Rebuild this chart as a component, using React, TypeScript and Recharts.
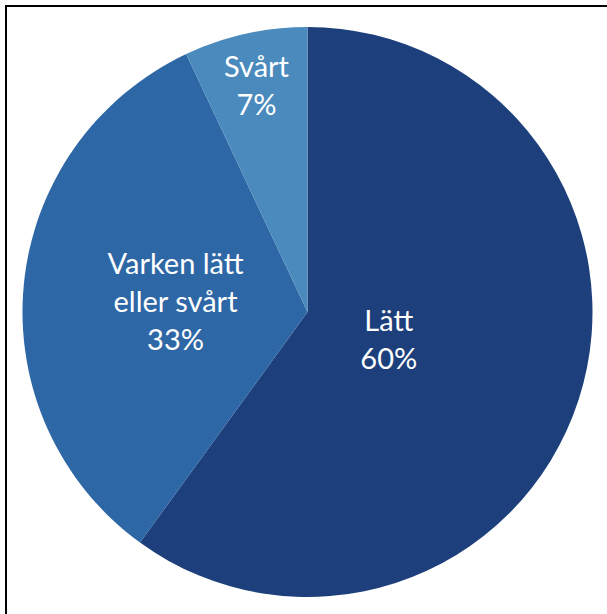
import React from "react";
import { PieChart, Pie, Cell } from "recharts";

const categories = ["Lätt", "Varken lätt eller svårt", "Svårt"];
const labelLines = [["Lätt"], ["Varken lätt", "eller svårt"], ["Svårt"]];
const values = [60, 33, 7];
const colors = ["#1d3f7b", "#2e67a6", "#4a8abd"];
// label distance from centre as fraction of the radius (layout only)
const labelRadiusFrac = [0.3, 0.465, 0.82];

const data = categories.map((name, i) => ({ name, value: values[i] }));

const RAD = Math.PI / 180;
const LINE_H = 38;

const renderLabel = (props: any) => {
  const { cx, cy, midAngle, outerRadius, index, value } = props;
  const r = outerRadius * labelRadiusFrac[index];
  const x = cx + r * Math.cos(-midAngle * RAD);
  const y = cy + r * Math.sin(-midAngle * RAD);
  const lines = [...labelLines[index], `${value}%`];
  const startY = y - ((lines.length - 1) * LINE_H) / 2;
  return (
    <text
      x={x}
      y={startY}
      fill="#ffffff"
      textAnchor="middle"
      dominantBaseline="central"
      fontFamily="Lato, 'Open Sans', sans-serif"
      fontSize={29}
    >
      {lines.map((l, i) => (
        <tspan key={i} x={x} y={startY + i * LINE_H}>
          {l}
        </tspan>
      ))}
    </text>
  );
};

export default function App() {
  return (
    <div
      style={{
        position: "absolute",
        left: 0,
        top: 0,
        width: 607,
        height: 614,
        overflow: "hidden",
        background: "#ffffff",
      }}
    >
      <div
        style={{
          position: "absolute",
          left: 5,
          top: 5,
          width: 700,
          height: 700,
          borderLeft: "2px solid #000",
          borderTop: "2px solid #000",
        }}
      />
      <div style={{ position: "absolute", left: 0, top: 0 }}>
        <PieChart width={607} height={614} margin={{ top: 0, right: 0, bottom: 0, left: 0 }}>
          <Pie
            data={data}
            dataKey="value"
            nameKey="name"
            cx={307.5}
            cy={312}
            outerRadius={285}
            startAngle={90}
            endAngle={-270}
            stroke="none"
            label={renderLabel}
            labelLine={false}
            isAnimationActive={false}
          >
            {data.map((d, i) => (
              <Cell key={d.name} fill={colors[i]} />
            ))}
          </Pie>
        </PieChart>
      </div>
    </div>
  );
}
